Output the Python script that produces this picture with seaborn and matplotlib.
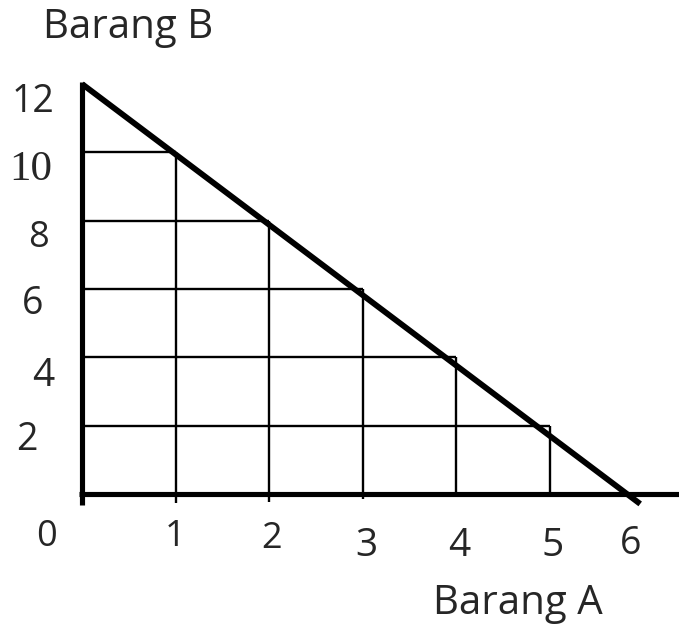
import matplotlib
matplotlib.use("Agg")
import matplotlib.pyplot as plt
import pandas as pd
import seaborn as sns

# DATA
BUDGET_A = [0, 5.97]          # budget line endpoints
BUDGET_B = [12.0, -0.29]
GRID_A = [1, 2, 3, 4, 5]      # grid corners on the budget line
GRID_B = [10, 8, 6, 4, 2]
X_TICKS = [0, 1, 2, 3, 4, 5, 6]
X_LABELS = ["0", "1", "2", "3", "4", "5", "6"]
Y_TICKS = [12, 10, 8, 6, 4, 2]
Y_LABELS = ["12", "10", "8", "6", "4", "2"]
X_TITLE = "Barang A"
Y_TITLE = "Barang B"

# LAYOUT (pixel offsets of the hand placed labels, grid line overhang)
X_LABEL_OFFSETS = [(-36, -43), (0, -43), (3, -45), (4, -52), (3, -52), (3, -52), (-12, -50)]
X_LABEL_SIZES = [26, 26, 26, 28, 28, 28, 27]
Y_LABEL_OFFSETS = [(-49, -18), (-51, -17), (-44, -17), (-49, -15), (-39, -19), (-55, -14)]
Y_LABEL_SIZES = [27, 31, 26, 27, 28, 27]
GRID_DROP = [-0.26, -0.24, -0.15, -0.09, 0.0]

PX_X = 93.5   # pixels per unit of Barang A
PX_Y = 34.17  # pixels per unit of Barang B
ORIGIN = (82, 494)
W, H = 679, 626

sns.set_style("white")
plt.rcParams["font.family"] = ["Open Sans", "DejaVu Sans"]

fig = plt.figure(figsize=(W / 100, H / 100), dpi=100)
ax = fig.add_axes([0, 0, 1, 1])
ax.set_xlim(-ORIGIN[0] / PX_X, (W - ORIGIN[0]) / PX_X)
ax.set_ylim(-(H - ORIGIN[1]) / PX_Y, ORIGIN[1] / PX_Y)
ax.axis("off")

# grid from each corner to the axes
for a, b, drop in zip(GRID_A, GRID_B, GRID_DROP):
    ax.plot([a, a], [drop, b], color="black", lw=1.7, solid_capstyle="butt")
    ax.plot([0, a], [b, b], color="black", lw=1.7, solid_capstyle="butt")

# axes lines
ax.plot([0, 0], [12.05, -0.32], color="black", lw=3.7, solid_capstyle="butt")
ax.plot([-0.03, 6.4], [0, 0], color="black", lw=3.7, solid_capstyle="butt")

# budget line
budget = pd.DataFrame({"Barang A": BUDGET_A, "Barang B": BUDGET_B})
sns.lineplot(data=budget, x="Barang A", y="Barang B", ax=ax, color="black",
             lw=4.2, solid_capstyle="butt", legend=False)
ax.set_xlabel("")
ax.set_ylabel("")

for v, lab, off, fs in zip(X_TICKS, X_LABELS, X_LABEL_OFFSETS, X_LABEL_SIZES):
    ax.annotate(lab, (v, 0), xytext=off, textcoords="offset pixels",
                ha="center", va="center", fontsize=fs)

for v, lab, off, fs in zip(Y_TICKS, Y_LABELS, Y_LABEL_OFFSETS, Y_LABEL_SIZES):
    fam = ["Liberation Serif", "DejaVu Serif"] if lab == "10" else ["Open Sans", "DejaVu Sans"]
    ax.annotate(lab, (0, v), xytext=off, textcoords="offset pixels",
                ha="center", va="center", fontsize=fs, family=fam)

fig.text(128 / W, 1 - 28 / H, Y_TITLE, ha="center", va="center", fontsize=29)
fig.text(518 / W, 1 - 604 / H, X_TITLE, ha="center", va="center", fontsize=29)

fig.savefig("out.png", dpi=100)
